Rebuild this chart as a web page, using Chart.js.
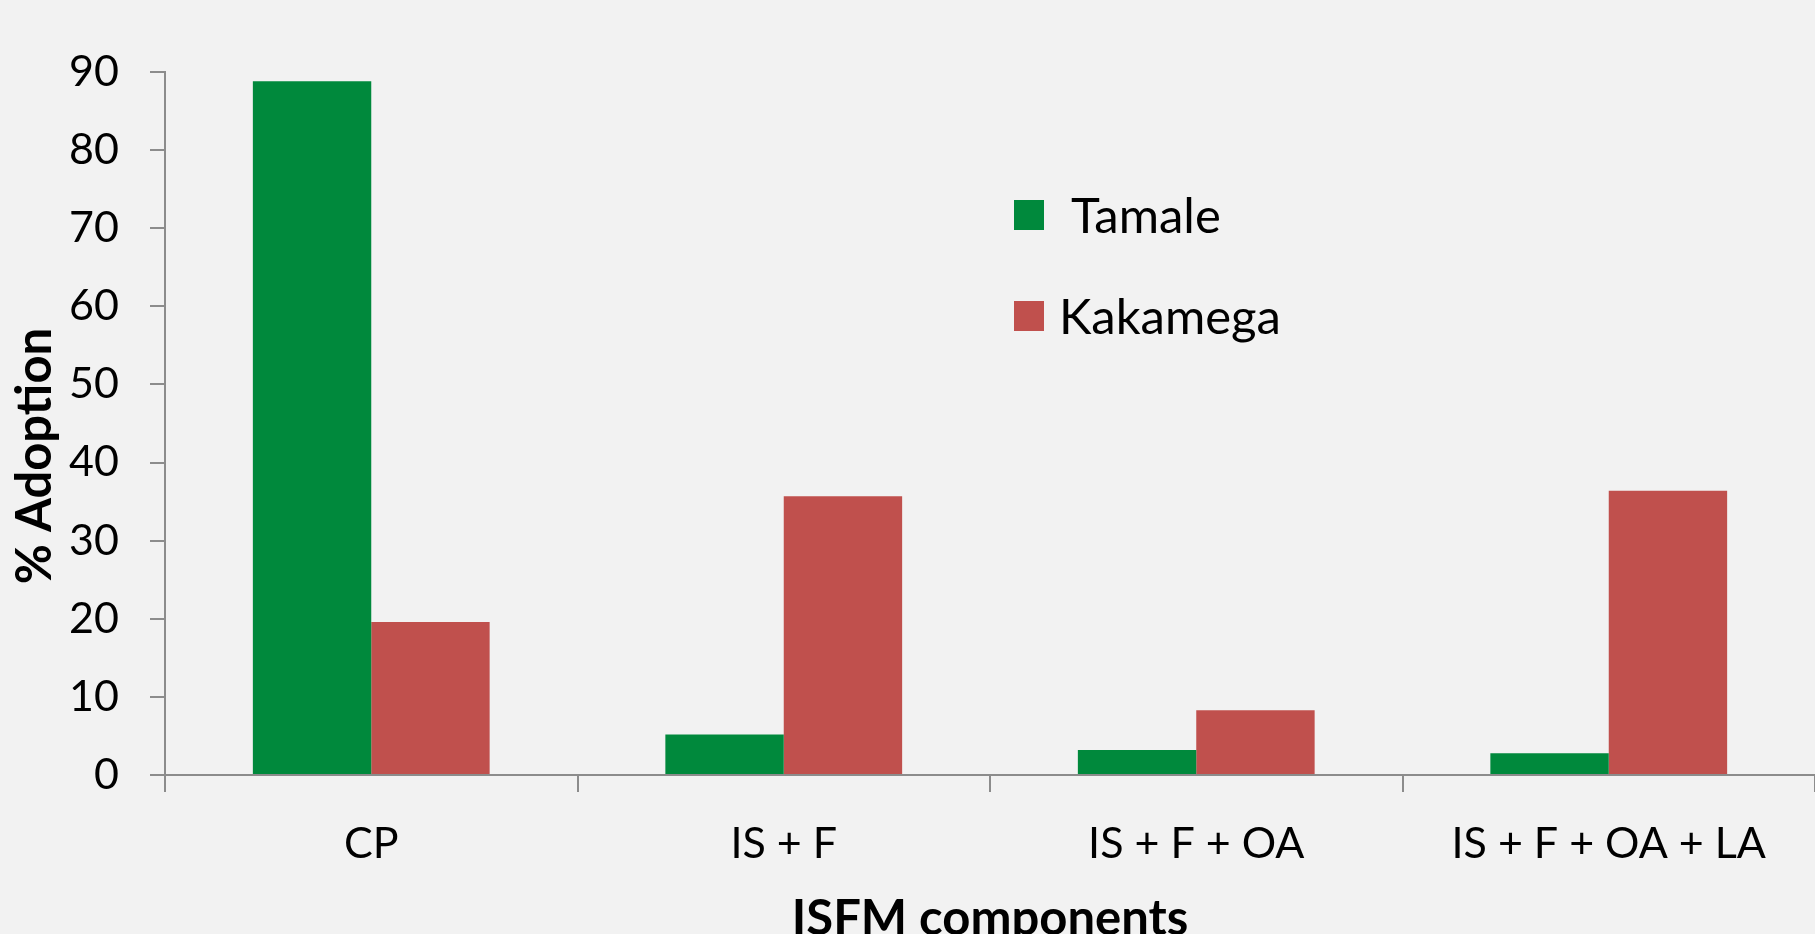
<!DOCTYPE html>
<html>
<head>
<meta charset="utf-8">
<script src="https://cdn.jsdelivr.net/npm/chart.js@4.4.1/dist/chart.umd.min.js"></script>
<style>
  html, body { margin: 0; padding: 0; background: #f2f2f2; overflow: hidden; }
  #wrap { width: 1815px; height: 934px; position: relative; }
</style>
</head>
<body>
<div id="wrap"><canvas id="c"></canvas></div>
<script>
// ISFM component adoption (%) by site
const categories = ['CP', 'IS + F', 'IS + F + OA', 'IS + F + OA + LA'];
const tamale = [88.8, 5.2, 3.2, 2.8];
const kakamega = [19.6, 35.7, 8.3, 36.4];
const seriesNames = ['Tamale', 'Kakamega'];
const yMin = 0, yMax = 90, yStep = 10;
const xTitle = 'ISFM components';
const yTitle = '% Adoption';

const GREEN = '#00893c';
const RED = '#c0504d';
const AXIS = '#8c8c8c';
const FONT = 'Lato, "Open Sans", sans-serif';

// Legend and axis titles drawn on the canvas
const overlay = {
  id: 'overlay',
  afterDraw(chart) {
    const ctx = chart.ctx;
    ctx.save();
    // legend
    ctx.font = '49px ' + FONT;
    ctx.textBaseline = 'middle';
    ctx.textAlign = 'left';
    const items = [
      { y: 215, tx: 1071 },
      { y: 316, tx: 1059 }
    ];
    chart.data.datasets.forEach((ds, i) => {
      const it = items[i];
      ctx.fillStyle = ds.backgroundColor;
      ctx.fillRect(1014, it.y - 15, 30, 30);
      ctx.fillStyle = '#000';
      ctx.fillText(ds.label, it.tx, it.y + 2);
    });
    // x axis title
    ctx.font = 'bold 49px ' + FONT;
    ctx.textAlign = 'center';
    ctx.textBaseline = 'alphabetic';
    const a = chart.chartArea;
    ctx.fillText(xTitle, (a.left + a.right) / 2, 935);
    // y axis title
    ctx.translate(35, 456);
    ctx.rotate(-Math.PI / 2);
    ctx.textBaseline = 'middle';
    ctx.fillText(yTitle, 0, 0);
    ctx.restore();
  }
};

new Chart(document.getElementById('c'), {
  type: 'bar',
  data: {
    labels: categories,
    datasets: [
      { label: seriesNames[0], data: tamale, backgroundColor: GREEN, borderWidth: 0 },
      { label: seriesNames[1], data: kakamega, backgroundColor: RED, borderWidth: 0 }
    ]
  },
  options: {
    responsive: true,
    maintainAspectRatio: false,
    animation: false,
    datasets: { bar: { categoryPercentage: 0.574, barPercentage: 1.0 } },
    layout: { padding: { top: 72, right: 0, left: 0, bottom: 0 } },
    plugins: {
      legend: { display: false },
      tooltip: { enabled: false }
    },
    scales: {
      x: {
        afterFit(s) { s.height = 159; },
        grid: { offset: true, drawOnChartArea: false, drawTicks: true, tickLength: 17, color: AXIS, lineWidth: 2 },
        border: { display: true, color: AXIS, width: 2 },
        ticks: { color: '#000', font: { family: FONT, size: 43 }, padding: 26, maxRotation: 0 }
      },
      y: {
        min: yMin, max: yMax,
        afterFit(s) { s.width = 165; },
        grid: { drawOnChartArea: false, drawTicks: true, tickLength: 15, color: AXIS, lineWidth: 2 },
        border: { display: true, color: AXIS, width: 2 },
        ticks: { stepSize: yStep, color: '#000', font: { family: FONT, size: 43 }, padding: 31 }
      }
    }
  },
  plugins: [overlay]
});
</script>
</body>
</html>
